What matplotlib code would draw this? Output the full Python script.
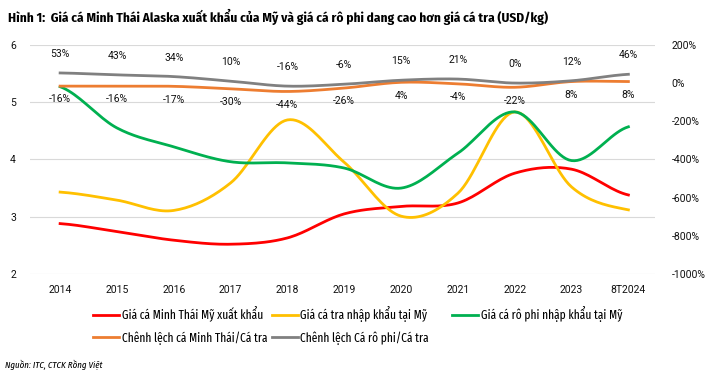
import numpy as np
import matplotlib.pyplot as plt
from matplotlib.ticker import FuncFormatter

plt.rcParams['font.family'] = ['Roboto', 'DejaVu Sans']
HEP = ['Fira Sans Condensed', 'DejaVu Sans']
RAT_HEP = ['Fira Sans Extra Condensed', 'DejaVu Sans']

# Dữ liệu
nam = ["2014", "2015", "2016", "2017", "2018", "2019", "2020", "2021", "2022", "2023", "8T2024"]
minh_thai = [2.88, 2.74, 2.59, 2.52, 2.63, 3.05, 3.18, 3.24, 3.76, 3.83, 3.38]
ca_tra = [3.43, 3.29, 3.11, 3.59, 4.69, 3.95, 3.01, 3.41, 4.83, 3.52, 3.12]
ro_phi = [5.27, 4.55, 4.22, 3.96, 3.94, 3.85, 3.50, 4.11, 4.83, 3.98, 4.57]
cl_minh_thai = [-16, -16, -17, -30, -44, -26, 4, -4, -22, 8, 8]
cl_ro_phi = [53, 43, 34, 10, -16, -6, 15, 21, 0, 12, 46]


def lam_muot(y, n=20):
    # spline Catmull-Rom để vẽ đường cong giống Excel
    y = np.asarray(y, dtype=float)
    p = np.concatenate([[y[0]], y, [y[-1]]])
    xs, ys = [], []
    for i in range(len(y) - 1):
        p0, p1, p2, p3 = p[i], p[i + 1], p[i + 2], p[i + 3]
        t = np.linspace(0, 1, n, endpoint=False)
        v = 0.5 * (2 * p1 + (-p0 + p2) * t + (2 * p0 - 5 * p1 + 4 * p2 - p3) * t ** 2
                   + (-p0 + 3 * p1 - 3 * p2 + p3) * t ** 3)
        xs.append(i + t)
        ys.append(v)
    xs.append([len(y) - 1])
    ys.append([y[-1]])
    return np.concatenate(xs), np.concatenate(ys)


fig = plt.figure(figsize=(7.21, 3.75), dpi=100)
ax = fig.add_axes([0.0416, 0.2693, 0.867, 0.611])
ax2 = ax.twinx()

x = np.arange(len(nam))
lw = 2.0
l1, = ax.plot(*lam_muot(minh_thai), color="#ff0000", lw=lw, label="Giá cá Minh Thái Mỹ xuất khẩu")
l2, = ax.plot(*lam_muot(ca_tra), color="#ffc000", lw=lw, label="Giá cá tra nhập khẩu tại Mỹ")
l3, = ax.plot(*lam_muot(ro_phi), color="#00b050", lw=lw, label="Giá cá rô phi nhập khẩu tại Mỹ")
l4, = ax2.plot(*lam_muot(cl_minh_thai), color="#ed7d31", lw=lw, label="Chênh lệch cá Minh Thái/Cá tra")
l5, = ax2.plot(*lam_muot(cl_ro_phi), color="#808080", lw=lw, label="Chênh lệch Cá rô phi/Cá tra")

for i in range(len(nam)):
    ax2.annotate(f"{cl_ro_phi[i]}%", (x[i], cl_ro_phi[i]), xytext=(0, 10), textcoords="offset points",
                 ha="center", va="bottom", fontsize=7.5, color="#111111")
    ax2.annotate(f"{cl_minh_thai[i]}%", (x[i], cl_minh_thai[i]), xytext=(0, -6), textcoords="offset points",
                 ha="center", va="top", fontsize=7.5, color="#111111")

ax.set_xlim(-0.53, 10.47)
ax.set_ylim(2, 6)
ax.set_yticks([2, 3, 4, 5, 6])
ax2.set_ylim(-1000, 200)
ax2.set_yticks(np.arange(-1000, 201, 200))
ax2.yaxis.set_major_formatter(FuncFormatter(lambda v, p: f"{int(v)}%"))
ax.set_xticks(x)
ax.set_xticklabels(nam)
ax.grid(axis="y", color="#d9d9d9", lw=0.8)
ax.set_axisbelow(True)
for a in (ax, ax2):
    for s in a.spines.values():
        s.set_visible(False)
    a.tick_params(length=0, labelsize=7.5, labelcolor="#111111")
ax.tick_params(axis="x", pad=8)
ax.tick_params(axis="y", pad=10)
ax2.tick_params(axis="y", pad=12)

# chú thích: 3 cột cách đều như Excel
cot = [([l1, l4], 93), ([l2, l5], 272), ([l3], 452)]
for handles, x0 in cot:
    fig.legend(handles=handles, loc="upper left", bbox_to_anchor=(x0 / 721, 0.183),
               frameon=False, prop={'family': RAT_HEP, 'size': 9}, handlelength=2.1,
               handletextpad=0.18, labelspacing=0.72, borderaxespad=0, borderpad=0)

fig.text(0.011, 0.955, "Hình 1:  Giá cá Minh Thái Alaska xuất khẩu của Mỹ và giá cá rô phi dang cao hơn giá cá tra (USD/kg)",
         fontsize=9.6, fontweight="bold", va="center", family=HEP)
fig.text(0.007, 0.027, "Nguồn: ITC, CTCK Rồng Việt", fontsize=7, style="italic", va="center", family=RAT_HEP)

fig.savefig("out.png", dpi=100)
